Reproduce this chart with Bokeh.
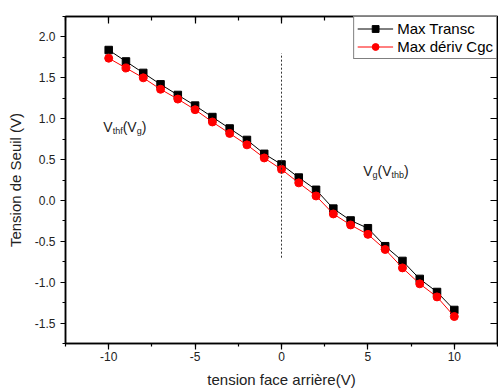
from bokeh.plotting import figure
from bokeh.models import (LinearAxis, SingleIntervalTicker, Label, ColumnDataSource,
                          NumeralTickFormatter, CustomJSTickFormatter)
from bokeh.embed import file_html
from bokeh.resources import INLINE

# ---- data ----
vback = [-10, -9, -8, -7, -6, -5, -4, -3, -2, -1, 0, 1, 2, 3, 4, 5, 6, 7, 8, 9, 10]
max_transc = [1.84, 1.70, 1.56, 1.42, 1.29, 1.16, 1.02, 0.88, 0.74, 0.57, 0.44,
              0.28, 0.13, -0.10, -0.245, -0.34, -0.56, -0.74, -0.96, -1.12, -1.34]
max_deriv_cgc = [1.74, 1.62, 1.50, 1.36, 1.24, 1.11, 0.96, 0.82, 0.68, 0.52, 0.38,
                 0.215, 0.055, -0.165, -0.30, -0.415, -0.60, -0.825, -1.02, -1.18, -1.42]
vline_x = [0]
vline_y0 = [-0.7]
vline_y1 = [1.8]

series_names = ["Max Transc", "Max dériv Cgc"]
x_title = "tension face arrière(V)"
y_title = "Tension de Seuil (V)"

FONT = "Liberation Sans"

p = figure(width=498, height=390, x_range=(-12.5, 12.5), y_range=(-1.75, 2.25),
           output_backend="svg", toolbar_location=None,
           min_border_left=65, min_border_top=16, min_border_right=1, min_border_bottom=47,
           background_fill_color="white", border_fill_color="white")
p.outline_line_color = "black"
p.outline_line_width = 1.5
p.xgrid.grid_line_color = None
p.ygrid.grid_line_color = None

# bottom axis
xa = p.xaxis[0]
xa.ticker = SingleIntervalTicker(interval=5, num_minor_ticks=2)
xa.formatter = NumeralTickFormatter(format="0")
xa.axis_label = x_title
# left axis
ya = p.yaxis[0]
ya.ticker = SingleIntervalTicker(interval=0.5, num_minor_ticks=2)
ya.formatter = NumeralTickFormatter(format="0.0")
ya.axis_label = y_title

for ax in (xa, ya):
    ax.axis_line_color = "black"
    ax.axis_line_width = 1.5
    ax.major_tick_line_color = "black"
    ax.minor_tick_line_color = "black"
    ax.major_tick_line_width = 1.2
    ax.minor_tick_line_width = 1.2
    ax.major_tick_in = 0
    ax.major_tick_out = 6
    ax.minor_tick_in = 0
    ax.minor_tick_out = 3
    ax.major_label_text_font = FONT
    ax.major_label_text_font_size = "12px"
    ax.major_label_text_color = "#222222"
    ax.axis_label_text_font = FONT
    ax.axis_label_text_font_size = "15px"
    ax.axis_label_text_font_style = "normal"
    ax.axis_label_text_color = "#222222"
xa.major_label_standoff = 2
xa.axis_label_standoff = 7
ya.major_tick_out = 5
ya.major_label_standoff = 5
ya.axis_label_standoff = 8

# top and right mirrored axes (ticks inward, no labels)
empty = CustomJSTickFormatter(code="return '';")
top = LinearAxis(ticker=SingleIntervalTicker(interval=5, num_minor_ticks=2), formatter=empty)
right = LinearAxis(ticker=SingleIntervalTicker(interval=0.5, num_minor_ticks=2), formatter=empty)
for ax in (top, right):
    ax.axis_line_color = "black"
    ax.axis_line_width = 1.5
    ax.major_tick_line_color = "black"
    ax.minor_tick_line_color = "black"
    ax.major_tick_line_width = 1.2
    ax.minor_tick_line_width = 1.2
    ax.major_tick_in = 7
    ax.major_tick_out = 0
    ax.minor_tick_in = 4
    ax.minor_tick_out = 0
    ax.major_label_text_color = None
    ax.major_label_standoff = 0
p.add_layout(top, "above")
p.add_layout(right, "right")

src = ColumnDataSource(dict(x=vback, a=max_transc, b=max_deriv_cgc))

p.line("x", "a", source=src, line_color="black", line_width=1, legend_label=series_names[0])
p.scatter("x", "a", source=src, marker="square", size=7.5, fill_color="black",
          line_color="black", legend_label=series_names[0])
p.line("x", "b", source=src, line_color="red", line_width=1, legend_label=series_names[1])
p.scatter("x", "b", source=src, marker="circle", size=8, fill_color="red",
          line_color="red", legend_label=series_names[1])

p.segment(x0=vline_x, y0=vline_y0, x1=vline_x, y1=vline_y1,
          line_color="#333333", line_width=1, line_dash="2 2")

# annotations with subscripts
def add_sub_text(x, y, parts):
    off = 0.0
    widths = {"V": 0.667, "(": 0.333, ")": 0.333, "t": 0.278, "h": 0.556, "f": 0.278,
              "b": 0.556, "g": 0.556}
    for txt, sub in parts:
        size = 9 if sub else 14
        p.add_layout(Label(x=x, y=y, x_offset=off, y_offset=(-4 if sub else 0), text=txt,
                           text_font=FONT, text_font_size=f"{size}px",
                           text_color="#222222", text_baseline="alphabetic",
                           text_align="left"))
        off += sum(widths.get(c, 0.55) for c in txt) * size

add_sub_text(-10.31, 0.90, [("V", False), ("thf", True), ("(V", False), ("g", True), (")", False)])
add_sub_text(4.73, 0.36, [("V", False), ("g", True), ("(V", False), ("thb", True), (")", False)])

lg = p.legend[0]
lg.location = "top_right"
lg.margin = 0
lg.padding = 3
lg.spacing = 1
lg.border_line_color = "black"
lg.border_line_width = 1
lg.background_fill_color = "white"
lg.background_fill_alpha = 1
lg.label_text_font = FONT
lg.label_text_font_size = "15px"
lg.label_text_color = "black"
lg.glyph_width = 36
lg.glyph_height = 17
lg.label_height = 17
lg.label_standoff = 4

open("out.html", "w").write(file_html(p, INLINE))
